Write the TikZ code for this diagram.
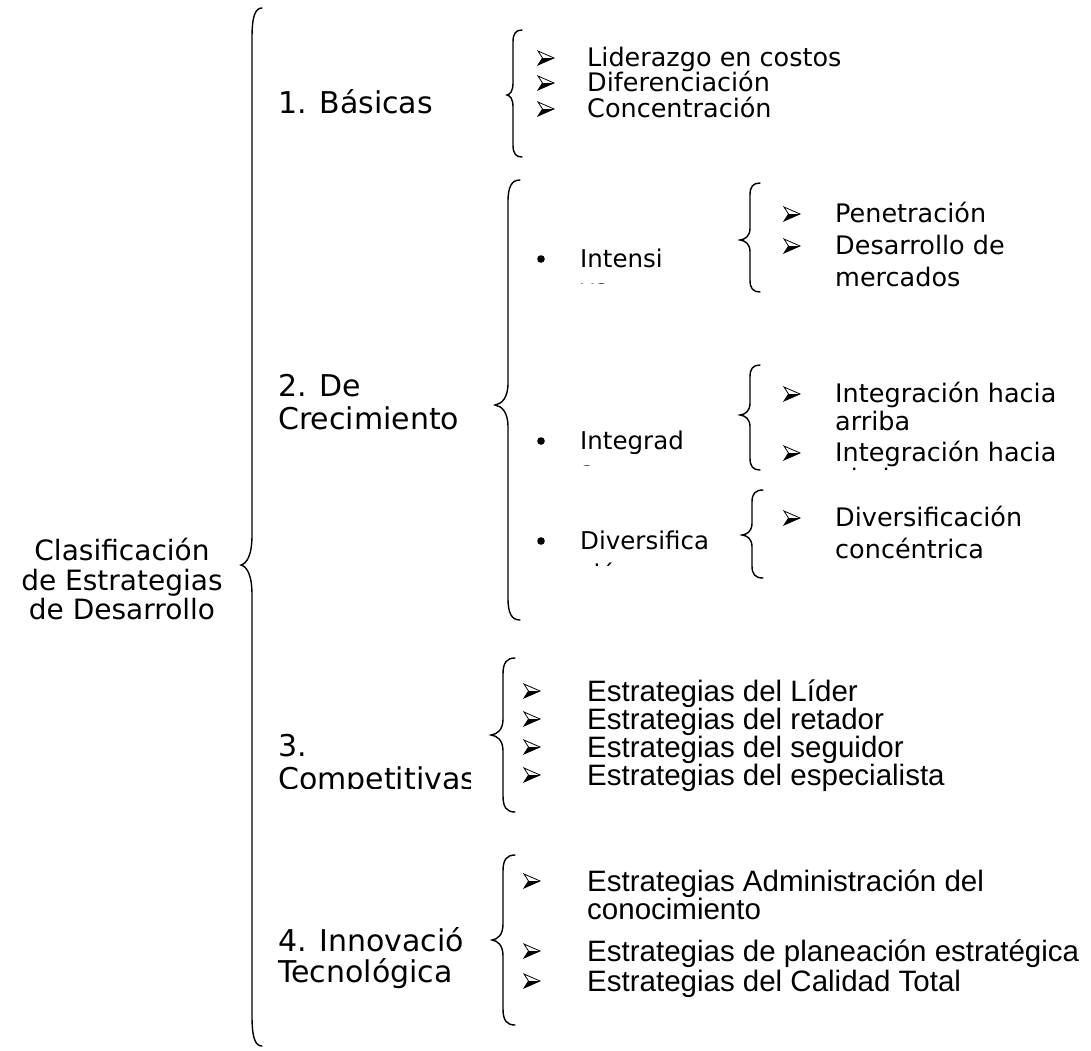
\documentclass[tikz,border=0pt]{standalone}
\usepackage{fontspec}
\setmainfont{DejaVu Sans}
\newfontfamily\arialf{Liberation Sans}

% curly brace opening to the right:
% #1 tip x, #2 stem x, #3 point x, #4 top y, #5 point y, #6 bottom y, #7 bend length
\newcommand{\wbrace}[7]{%
  \draw[bracepath] (#1,#4)
    .. controls ({#2+0.3*(#1-#2)},#4) and (#2,{#4+0.3*#7}) .. (#2,{#4+#7})
    -- (#2,{#5-#7})
    .. controls (#2,{#5-0.3*#7}) and ({#3+0.5*(#2-#3)},{#5-0.05*#7}) .. (#3,#5)
    .. controls ({#3+0.5*(#2-#3)},{#5+0.05*#7}) and (#2,{#5+0.3*#7}) .. (#2,{#5+#7})
    -- (#2,{#6-#7})
    .. controls (#2,{#6-0.3*#7}) and ({#2+0.3*(#1-#2)},#6) .. (#1,#6);}

% three-dimensional arrowhead bullet: #1 left x, #2 middle y
\newcommand{\abul}[2]{%
  \fill[black] (#1,{#2+7}) -- ({#1+4.5},#2) -- ({#1+16},#2) -- cycle;
  \draw[black, line width=0.8pt, line join=miter]
    (#1,{#2-7}) -- ({#1+16},#2) -- (#1,{#2+7}) -- ({#1+4.5},#2) -- cycle;}

% round bullet: #1 centre x, #2 centre y
\newcommand{\rbul}[2]{\fill[black] (#1,#2) circle (3.8);}

\begin{document}
\begin{tikzpicture}[x=1pt,y=-1pt,
  bracepath/.style={draw=black, line width=1.4pt, line cap=round},
  ttl/.style={anchor=base, inner sep=0pt, font=\fontsize{28}{32}\selectfont},
  lbl/.style={anchor=base west, inner sep=0pt, font=\fontsize{30}{34}\selectfont},
  sub/.style={anchor=base west, inner sep=0pt, font=\fontsize{24.5}{30}\selectfont},
  itm/.style={anchor=base west, inner sep=0pt, font=\fontsize{25.5}{30}\selectfont},
  nitm/.style={anchor=base west, inner sep=0pt, font=\arialf\fontsize{29.5}{34}\selectfont},
]
\useasboundingbox (0,0) rectangle (1091,1050);
\fill[white] (0,0) rectangle (1091,1050);

% ---------- root ----------
\node[ttl] (t1) at (122,560) {Clasificación};
\node[ttl] (t2) at (122,590) {de Estrategias};
\node[ttl] (t3) at (122,619) {de Desarrollo};
\wbrace{262}{252}{241}{8}{565}{1046}{30}

% ---------- 1. Basicas ----------
\node[lbl] (b1) at (278,113) {1. Básicas};
\wbrace{522}{513}{507}{30}{95}{157}{12}
\abul{538}{58}  \node[itm] (b1a) at (587,66)  {Liderazgo en costos};
\abul{538}{83}  \node[itm] (b1b) at (587,91)  {Diferenciación};
\abul{538}{109} \node[itm] (b1c) at (587,117) {Concentración};

% ---------- 2. De Crecimiento ----------
\node[lbl] (c1) at (278,396) {2. De};
\node[lbl] (c2) at (278,429) {Crecimiento};
\wbrace{520}{508}{495}{180}{405}{620}{22}

% intensiva
\rbul{541}{259}
\begin{scope}
  \clip (570,230) rectangle (700,283);
  \node[sub] (s1) at (580,267) {Intensi};
  \node[sub] (s1b) at (580,297.5) {va};
\end{scope}
\wbrace{760}{750}{740}{183}{240}{292}{12}
\abul{784}{214} \node[itm] (s1a) at (835,222) {Penetración};
\abul{784}{246} \node[itm] (s1c) at (835,254) {Desarrollo de};
\node[itm] (s1d) at (835,286) {mercados};

% integrada
\rbul{541}{441}
\begin{scope}
  \clip (570,410) rectangle (700,465);
  \node[sub] (s2) at (580,449) {Integrad};
  \node[sub] (s2b) at (580,479.5) {a};
\end{scope}
\wbrace{760}{750}{740}{365}{415}{470}{12}
\begin{scope}
  \clip (770,360) rectangle (1091,469);
  \abul{784}{394} \node[itm] (s2a) at (835,402) {Integración hacia};
  \node[itm] (s2c) at (835,430) {arriba};
  \abul{784}{453} \node[itm] (s2d) at (835,461) {Integración hacia};
  \node[itm] (s2e) at (835,487.5) {abajo};
\end{scope}

% diversificada
\rbul{541}{541}
\begin{scope}
  \clip (570,515) rectangle (708,565);
  \node[sub] (s3) at (580,549) {Diversifica};
  \node[sub] (s3b) at (580,582.5) {ción};
\end{scope}
\wbrace{763}{752}{742}{490}{535}{578}{12}
\abul{784}{518} \node[itm] (s3a) at (835,526) {Diversificación};
\node[itm] (s3c) at (835,558) {concéntrica};

% ---------- 3. Competitivas ----------
\node[lbl] (p1) at (278,756) {3.};
\begin{scope}
  \clip (270,762) rectangle (470,788);
  \node[lbl] (p2) at (278,789) {Competitivas};
\end{scope}
\wbrace{515}{503}{491}{658}{735}{812}{16}
\abul{524}{691} \node[nitm] (p2a) at (587,701) {Estrategias del Líder};
\abul{524}{719} \node[nitm] (p2b) at (587,729) {Estrategias del retador};
\abul{524}{747} \node[nitm] (p2c) at (587,757) {Estrategias del seguidor};
\abul{524}{775} \node[nitm] (p2d) at (587,785) {Estrategias del especialista};

% ---------- 4. Innovacion Tecnologica ----------
\begin{scope}
  \clip (270,910) rectangle (463,1000);
  \node[lbl] (q1) at (278,951) {4. Innovación};
  \node[lbl] (q2) at (278,982) {Tecnológica};
\end{scope}
\wbrace{515}{503}{492}{855}{940}{1025}{16}
\abul{524}{881} \node[nitm] (q2a) at (587,891) {Estrategias Administración del};
\node[nitm] (q2b) at (587,919) {conocimiento};
\abul{524}{951} \node[nitm] (q2c) at (587,961) {Estrategias de planeación estratégica};
\abul{524}{981} \node[nitm] (q2d) at (587,991) {Estrategias del Calidad Total};
\end{tikzpicture}
\end{document}
